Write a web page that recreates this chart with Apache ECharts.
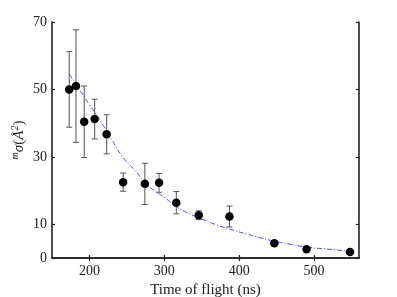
<!DOCTYPE html>
<html><head><meta charset="utf-8">
<script src="https://cdn.jsdelivr.net/npm/echarts@6/dist/echarts.min.js"></script>
<style>html,body{margin:0;padding:0;background:#fff}#c{width:397px;height:297px}</style>
</head><body><div id="c"></div>
<script>
const tof = [173, 182, 193, 207, 223, 245, 274, 293, 316, 346, 387, 447, 490, 548];
const sigma = [50.0, 51.0, 40.4, 41.2, 36.7, 22.5, 22.0, 22.3, 16.4, 12.7, 12.3, 4.4, 2.6, 1.8];
const err = [11.2, 16.7, 10.6, 5.9, 5.8, 2.7, 6.1, 2.8, 3.3, 1.3, 3.1, 0, 0, 0];
const fitX = [173, 185, 200, 215, 230, 245, 260, 280, 300, 316, 330, 347, 370, 387, 410, 430, 447, 470, 490, 515, 548];
const fitY = [54.6, 50.5, 45.5, 40.5, 35.0, 29.8, 26.2, 21.2, 18.0, 15.3, 13.5, 11.8, 9.8, 8.6, 7.1, 5.9, 5.0, 4.0, 3.2, 2.7, 2.0];
const xTicks = [200, 300, 400, 500];
const yTicks = [0, 10, 30, 50, 70];

const font = 'Liberation Serif';
const chart = echarts.init(document.getElementById('c'), null, {renderer: 'canvas'});
const axLine = {show: true, lineStyle: {color: '#222', width: 1.6}};
const errData = tof.map((t, i) => [t, sigma[i] - err[i], sigma[i] + err[i]]).filter(d => d[2] > d[1]);
chart.setOption({
  animation: false,
  grid: {left: 52, right: 38, top: 22, bottom: 39, containLabel: false, outerBoundsMode: 'none'},
  xAxis: [{
    type: 'value', min: 150, max: 560, position: 'bottom',
    axisLine: axLine,
    axisTick: {show: true, inside: true, length: 3, customValues: xTicks, lineStyle: {color: '#222', width: 1.2}},
    axisLabel: {customValues: xTicks, fontFamily: font, fontSize: 14, color: '#222', margin: 6},
    splitLine: {show: false},
    name: 'Time of flight (ns)', nameLocation: 'middle', nameGap: 25,
    nameTextStyle: {fontFamily: font, fontSize: 15, color: '#222'}
  }, {
    type: 'value', min: 150, max: 560, position: 'top',
    axisLine: axLine,
    axisTick: {show: true, inside: true, length: 3, customValues: xTicks, lineStyle: {color: '#222', width: 1.2}},
    axisLabel: {show: false}, splitLine: {show: false}
  }],
  yAxis: [{
    type: 'value', min: 0, max: 70, position: 'left',
    axisLine: axLine,
    axisTick: {show: true, inside: true, length: 3, customValues: yTicks, lineStyle: {color: '#222', width: 1.2}},
    axisLabel: {customValues: yTicks, fontFamily: font, fontSize: 14, color: '#222', margin: 5},
    splitLine: {show: false},
    name: '{m|m}{s|σ}{p|(}{s|Å}{m|2}{p|)}', nameLocation: 'middle', nameGap: 24, nameMoveOverlap: false,
    nameTextStyle: {
      fontFamily: font, fontSize: 15, color: '#222',
      rich: {
        m: {fontFamily: font, fontSize: 10, color: '#222', fontStyle: 'italic', padding: [0, 0, 8, 0]},
        s: {fontFamily: font, fontSize: 15, color: '#222', fontStyle: 'italic'},
        p: {fontFamily: font, fontSize: 15, color: '#222'}
      }
    }
  }, {
    type: 'value', min: 0, max: 70, position: 'right',
    axisLine: axLine,
    axisTick: {show: true, inside: true, length: 3, customValues: yTicks, lineStyle: {color: '#222', width: 1.2}},
    axisLabel: {show: false}, splitLine: {show: false}
  }],
  series: [{
    type: 'line', data: fitX.map((x, i) => [x, fitY[i]]), smooth: true, showSymbol: false,
    lineStyle: {color: '#4a4aff', width: 1, type: [5, 2, 1, 2]}, z: 1
  }, {
    type: 'custom', data: errData, z: 2,
    renderItem: (params, api) => {
      const x = api.value(0);
      const lo = api.coord([x, api.value(1)]);
      const hi = api.coord([x, api.value(2)]);
      const w = 3;
      const st = {stroke: '#555', lineWidth: 1};
      return {type: 'group', children: [
        {type: 'line', shape: {x1: lo[0], y1: lo[1], x2: hi[0], y2: hi[1]}, style: st},
        {type: 'line', shape: {x1: lo[0] - w, y1: lo[1], x2: lo[0] + w, y2: lo[1]}, style: st},
        {type: 'line', shape: {x1: hi[0] - w, y1: hi[1], x2: hi[0] + w, y2: hi[1]}, style: st}
      ]};
    }
  }, {
    type: 'scatter', data: tof.map((t, i) => [t, sigma[i]]), symbolSize: 8.5,
    itemStyle: {color: '#000', opacity: 1}, z: 3
  }]
});
</script></body></html>
